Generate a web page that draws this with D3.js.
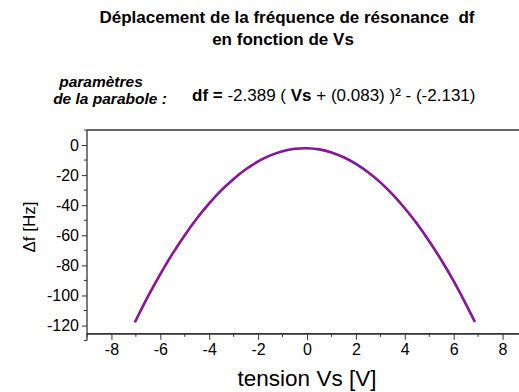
<!DOCTYPE html>
<html>
<head>
<meta charset="utf-8">
<script src="https://cdn.jsdelivr.net/npm/d3@7"></script>
<style>
  html, body { margin: 0; padding: 0; background: #fff; }
  svg { display: block; font-family: "Liberation Sans", Arial, sans-serif; }
  text { white-space: pre; }
</style>
</head>
<body>
<svg id="chart" width="519" height="392"></svg>
<script>
// Measured frequency shift versus bias voltage, and its parabolic fit
const tension = [-7.04, -6.5, -6, -5.5, -5, -4.5, -4, -3.5, -3, -2.5, -2, -1.5, -1, -0.5, 0,
                 0.5, 1, 1.5, 2, 2.5, 3, 3.5, 4, 4.5, 5, 5.5, 6, 6.5, 6.87];
const deltaF = [-117.8, -100.5, -85.8, -72.2, -59.9, -48.7, -38.8, -30.0, -22.5, -16.1, -10.9, -6.9, -4.1, -2.5, -2.1,
                -2.9, -4.9, -8.1, -12.5, -18.1, -24.8, -32.8, -42.0, -52.3, -63.9, -76.6, -90.5, -105.7, -117.6];
const fitA = -2.389, fitB = 0.083, fitC = -2.131;

const xTicks = [-8, -6, -4, -2, 0, 2, 4, 6, 8];
const yTicks = [0, -20, -40, -60, -80, -100, -120];

const svg = d3.select("#chart");
const x = d3.scaleLinear().domain([-9, 9]).range([87, 527]);
const y = d3.scaleLinear().domain([10, -130]).range([130, 340.6]);
const xAxisAt = -125.5;
const axisColor = "#333";
const tickFont = 16;

// Title
const title = svg.append("text").attr("text-anchor", "middle")
  .attr("font-weight", "bold").attr("font-size", 17).attr("fill", "#000");
title.append("tspan").attr("x", 287).attr("y", 23).text("Déplacement de la fréquence de résonance  df");
title.append("tspan").attr("x", 283).attr("y", 45).text("en fonction de Vs");

// Fit parameters
const lab = svg.append("text").attr("text-anchor", "middle")
  .attr("font-weight", "bold").attr("font-style", "italic").attr("font-size", 15.5);
lab.append("tspan").attr("x", 101).attr("y", 87).text("paramètres");
lab.append("tspan").attr("x", 110).attr("y", 104).text("de la parabole :");

const eq = svg.append("text").attr("x", 192).attr("y", 101).attr("font-size", 17);
eq.append("tspan").attr("font-weight", "bold").text("df =");
eq.append("tspan").text(` ${fitA} ( `);
eq.append("tspan").attr("font-weight", "bold").text("Vs");
eq.append("tspan").text(` + (${fitB}) )² - (${fitC})`);

// Frame top line
svg.append("line").attr("x1", x(-9)).attr("x2", x(9)).attr("y1", y(10)).attr("y2", y(10))
  .attr("stroke", axisColor).attr("stroke-width", 1.6);

// Y axis
const yAxis = d3.axisLeft(y).tickValues(yTicks).tickSize(5).tickPadding(3).tickFormat(d => String(d));
const gy = svg.append("g").attr("transform", `translate(${x(-9)},0)`).call(yAxis);
gy.select(".domain").remove();
gy.append("line").attr("y1", y(10)).attr("y2", y(-130)).attr("stroke", axisColor).attr("stroke-width", 1.3);
gy.selectAll(".minor").data(d3.range(10, -131, -20)).join("line").attr("class", "minor")
  .attr("x1", -3).attr("x2", 0).attr("y1", d => y(d)).attr("y2", d => y(d)).attr("stroke", axisColor);
gy.selectAll(".tick line").attr("stroke", axisColor);
gy.selectAll(".tick text").attr("font-size", tickFont).attr("fill", "#000")
  .attr("font-family", "Liberation Sans, Arial, sans-serif");

// X axis
const xAxis = d3.axisBottom(x).tickValues(xTicks).tickSize(6).tickPadding(4).tickFormat(d => String(d));
const gx = svg.append("g").attr("transform", `translate(0,${y(xAxisAt)})`).call(xAxis);
gx.select(".domain").remove();
gx.append("line").attr("x1", x(-9)).attr("x2", x(9)).attr("stroke", axisColor).attr("stroke-width", 1.6);
gx.selectAll(".minor").data(d3.range(-9, 10, 2)).join("line").attr("class", "minor")
  .attr("x1", d => x(d)).attr("x2", d => x(d)).attr("y1", 0).attr("y2", 3).attr("stroke", axisColor);
gx.selectAll(".tick line").attr("stroke", axisColor);
gx.selectAll(".tick text").attr("font-size", tickFont).attr("fill", "#000")
  .attr("font-family", "Liberation Sans, Arial, sans-serif");

// Axis titles
svg.append("text").attr("x", 307).attr("y", 386).attr("text-anchor", "middle")
  .attr("font-size", 22.5).text("tension Vs [V]");
svg.append("text").attr("transform", "translate(35,227) rotate(-90)").attr("text-anchor", "middle")
  .attr("font-size", 17).text("Δf [Hz]");

// Curves: measurement (blue) under the fit (red)
const pts = tension.map((v, i) => [v, deltaF[i]]);
const line = d3.line().x(d => x(d[0])).y(d => y(d[1])).curve(d3.curveNatural);
svg.append("path").datum(pts).attr("d", line)
  .attr("fill", "none").attr("stroke", "#2020ff").attr("stroke-width", 2.6);
svg.append("path").datum(pts).attr("d", line)
  .attr("fill", "none").attr("stroke", "#ff0022").attr("stroke-width", 1.1);
</script>
</body>
</html>
